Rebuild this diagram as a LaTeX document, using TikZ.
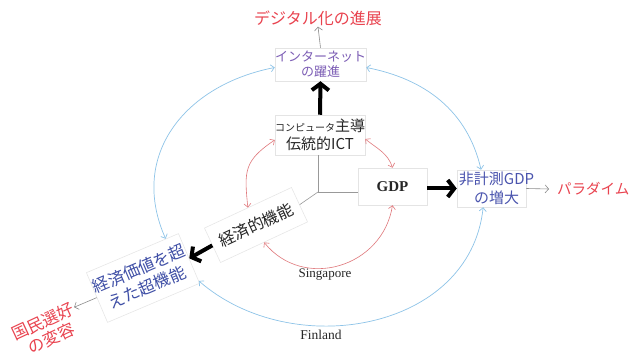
\documentclass[tikz,border=0pt]{standalone}
\usepackage{fontspec}
\setmainfont{Liberation Serif}
\newfontfamily\jpfont{Noto Sans CJK JP}
\usetikzlibrary{arrows.meta,calc}
\definecolor{tred}{HTML}{E9434F}
\definecolor{tpurple}{HTML}{7C5DB5}
\definecolor{tblue}{HTML}{4A54AE}
\definecolor{extblue}{HTML}{3F4FA6}
\definecolor{arcblue}{HTML}{8EC4E8}
\definecolor{arcred}{HTML}{E0787C}
\definecolor{garrow}{HTML}{8C8C8C}
\definecolor{boxline}{HTML}{E4E4E4}
\definecolor{ink}{HTML}{262626}
\newcommand{\fs}[2]{\fontsize{#1}{#2}\selectfont}
\begin{document}
\begin{tikzpicture}[x=1pt,y=1pt,
  box/.style={draw=boxline,line width=0.5pt,fill=white,inner sep=0pt,align=center},
  bigarrow/.style={draw=black,line width=4pt,-{Straight Barb[length=6.5pt,width=17pt]}},
  thinarrow/.style={draw=garrow,line width=0.6pt,-{Straight Barb[length=3.5pt,width=8pt]}},
  bluearc/.style={draw=arcblue,line width=0.7pt,{Straight Barb[length=3.5pt,width=7pt]}-{Straight Barb[length=3.5pt,width=7pt]}},
  redarc/.style={draw=arcred,line width=0.6pt,{Straight Barb[length=3.5pt,width=7pt]}-{Straight Barb[length=3.5pt,width=7pt]}},
  hub/.style={draw=black!40,line width=0.6pt},
  lbl/.style={inner sep=1pt,align=center}
]
\useasboundingbox (0,0) rectangle (632,356);
\fill[white] (0,0) rectangle (632,356);

% outer labels
\node[lbl,text=tred,font=\jpfont\fs{16}{18}] (digi) at (318,338) {デジタル化の進展};
\node[lbl,anchor=west,inner sep=0pt,text=tred,font=\jpfont\fs{14.5}{17}] (para) at (557,167) {パラダイム};
\node[lbl,rotate=25,text=tred,font=\jpfont\fs{16.5}{19}] (pref) at (47,26) {国民選好\\の変容};

% ring boxes
\node[box,minimum width=81pt,minimum height=33pt,text=tpurple,font=\jpfont\fs{13}{15}] (inet) at (320.5,291.5) {インターネット\\の躍進};
\node[box,minimum width=69pt,minimum height=37pt] (non) at (491.5,167.5) {};
\node[lbl,text=tblue,font=\jpfont\fs{15}{19}] (nontext) at (496.5,167.5) {非計測GDP\\の増大};
\node[box,minimum width=100pt,minimum height=54pt,rotate=23,text=extblue,font=\jpfont\fs{16.5}{20}] (ext) at (143,78) {経済価値を超\\えた超機能};

% inner boxes
\node[box,minimum width=86pt,minimum height=40pt,text=ink,font=\jpfont\fs{15}{18}] (ict) at (320,221) {{\fs{10}{12}コンピュータ}主導\\伝統的ICT};
\node[box,minimum width=69pt,minimum height=37pt,text=ink,font=\fs{15}{18}\bfseries] (gdp) at (392.5,169.5) {GDP};
\node[box,minimum width=96pt,minimum height=38pt,rotate=25,text=ink,font=\jpfont\fs{16}{18}] (econ) at (256,131) {経済的機能};

% arc labels
\node[lbl,text=ink,font=\fs{13}{15}] (sing) at (325,81) {Singapore};
\node[lbl,text=ink,font=\fs{13.5}{15}] (fin) at (321,21) {Finland};

% hub lines
\coordinate (ctr) at (318,164);
\draw[hub] (ctr) -- (ctr |- ict.south);
\draw[hub] (ctr) -- (ctr -| gdp.west);
\draw[hub] (ctr) -- (econ.east);

% big arrows
\draw[bigarrow] (ict.north) -- (inet.south);
\draw[bigarrow] (gdp.east |- non.west) -- (non.west);
\draw[bigarrow] (econ.west) -- (ext.east);

% thin gray arrows
\draw[thinarrow] (inet.north) -- (digi.south);
\draw[thinarrow] (non.east) -- ([xshift=-8pt]para.west);
\draw[thinarrow] (ext.west) -- ($(pref.north east)!0.5!(pref.east)$);

% red arcs
\draw[redarc] ([yshift=-4pt]ict.east) to[out=-39,in=108] (gdp.north);
\draw[redarc] ([yshift=-5pt]ict.west) to[out=214,in=96,looseness=1.3] (econ.north);
\draw[redarc] (econ.south) to[out=-51,in=261,looseness=1.2] (gdp.south);

% blue ring arcs
\draw[bluearc] ([yshift=-3pt]inet.west) to[out=191,in=114,looseness=1.15] ($(ext.north)!0.72!(ext.north east)$);
\draw[bluearc] ([yshift=-3pt]inet.east) to[out=-11,in=103] ($(non.north west)!0.35!(non.north east)$);
\draw[bluearc] ($(non.south west)!0.38!(non.south east)$) to[out=264,in=319,looseness=1.08] ($(ext.east)!0.9!(ext.south east)$);
\end{tikzpicture}
\end{document}
